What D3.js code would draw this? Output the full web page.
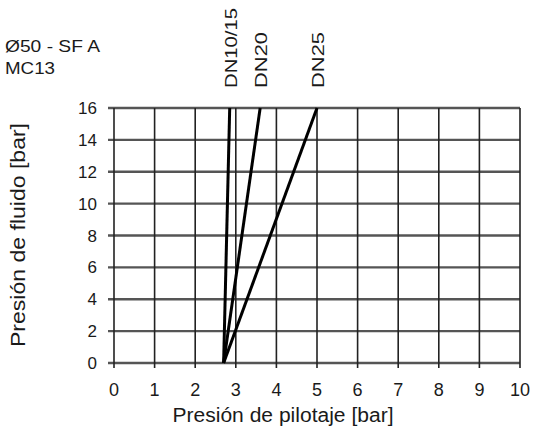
<!DOCTYPE html>
<html>
<head>
<meta charset="utf-8">
<script src="https://cdn.jsdelivr.net/npm/d3@7"></script>
<style>
  body { margin: 0; background: #fff; }
  text { font-family: "Liberation Sans", Arial, sans-serif; fill: #1a1a1a; }
</style>
</head>
<body>
<svg id="chart"></svg>
<script>
// data
const seriesNames = ["DN10/15", "DN20", "DN25"];
const startPilot = [2.7, 2.7, 2.7];   // pilot pressure at 0 bar fluid
const endPilot = [2.85, 3.6, 5.0];    // pilot pressure at 16 bar fluid
const fluidRange = [0, 16];
const xTicks = [0, 1, 2, 3, 4, 5, 6, 7, 8, 9, 10];
const yTicks = [0, 2, 4, 6, 8, 10, 12, 14, 16];

const width = 539, height = 436;
const svg = d3.select("#chart").attr("width", width).attr("height", height);

const x = d3.scaleLinear().domain([0, 10]).range([114, 520]);
const y = d3.scaleLinear().domain([0, 16]).range([363, 108]);

// horizontal grid (gray, thicker)
svg.append("g").selectAll("line")
  .data(yTicks)
  .join("line")
  .attr("x1", x(0) - 6).attr("x2", x(10))
  .attr("y1", d => y(d)).attr("y2", d => y(d))
  .attr("stroke", "#555").attr("stroke-width", 2.4);

// vertical grid
svg.append("g").selectAll("line")
  .data(xTicks)
  .join("line")
  .attr("x1", d => x(d)).attr("x2", d => x(d))
  .attr("y1", y(16)).attr("y2", y(0) + 5)
  .attr("stroke", "#222").attr("stroke-width", 1.6);

// tick labels
svg.append("g").selectAll("text")
  .data(yTicks)
  .join("text")
  .attr("x", x(0) - 17).attr("y", d => y(d) + 6)
  .attr("text-anchor", "end").attr("font-size", 17)
  .text(d => d);

svg.append("g").selectAll("text")
  .data(xTicks)
  .join("text")
  .attr("x", d => x(d)).attr("y", 396)
  .attr("text-anchor", "middle").attr("font-size", 18)
  .text(d => d);

// series lines
const line = d3.line().x(d => x(d[0])).y(d => y(d[1]));
svg.append("g").selectAll("path")
  .data(seriesNames.map((n, i) => [[startPilot[i], fluidRange[0]], [endPilot[i], fluidRange[1]]]))
  .join("path")
  .attr("d", line)
  .attr("fill", "none")
  .attr("stroke", "#000")
  .attr("stroke-width", 3);

// series labels, rotated above the plot
const labelLen = [80, 56, 56];
svg.append("g").selectAll("text")
  .data(seriesNames)
  .join("text")
  .attr("transform", (d, i) => `translate(${x(endPilot[i]) + 7},88) rotate(-90)`)
  .attr("font-size", 16)
  .attr("textLength", (d, i) => labelLen[i])
  .attr("lengthAdjust", "spacingAndGlyphs")
  .text(d => d);

// top-left annotation
svg.append("text").attr("x", 5).attr("y", 52).attr("font-size", 17)
  .attr("textLength", 95).attr("lengthAdjust", "spacingAndGlyphs").text("Ø50 - SF A");
svg.append("text").attr("x", 5).attr("y", 74).attr("font-size", 17)
  .attr("textLength", 50).attr("lengthAdjust", "spacingAndGlyphs").text("MC13");

// axis titles
svg.append("text")
  .attr("x", 283).attr("y", 422)
  .attr("text-anchor", "middle").attr("font-size", 20)
  .attr("textLength", 221).attr("lengthAdjust", "spacingAndGlyphs")
  .text("Presión de pilotaje [bar]");

svg.append("text")
  .attr("transform", "translate(25,235) rotate(-90)")
  .attr("text-anchor", "middle").attr("font-size", 20)
  .attr("textLength", 224).attr("lengthAdjust", "spacingAndGlyphs")
  .text("Presión de fluido [bar]");
</script>
</body>
</html>
